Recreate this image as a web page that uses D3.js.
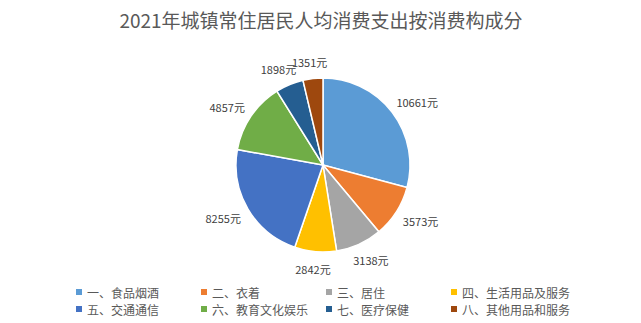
<!DOCTYPE html>
<html>
<head>
<meta charset="utf-8">
<script src="https://cdn.jsdelivr.net/npm/d3@7"></script>
<style>
  body { margin: 0; background: #fff; }
  svg { display: block; font-family: "Noto Sans CJK SC", "Noto Sans", sans-serif; }
</style>
</head>
<body>
<svg id="chart"></svg>
<script>
const title = '2021年城镇常住居民人均消费支出按消费构成分';
const categories = ['一、食品烟酒', '二、衣着', '三、居住', '四、生活用品及服务',
    '五、交通通信', '六、教育文化娱乐', '七、医疗保健', '八、其他用品和服务'];
const values = [10661, 3573, 3138, 2842, 8255, 4857, 1898, 1351];
const unit = '元';
const colors = ['#5B9BD5', '#ED7D31', '#A5A5A5', '#FFC000', '#4472C4', '#70AD47', '#255E91', '#9E480E'];

const width = 641;
const height = 323;
const cx = 323, cy = 165, radius = 87;

const svg = d3.select('#chart').attr('width', width).attr('height', height);

svg.append('text')
    .attr('x', 321)
    .attr('y', 28)
    .attr('text-anchor', 'middle')
    .attr('font-size', 19)
    .attr('fill', '#595959')
    .text(title);

const data = categories.map((c, i) => ({ name: c, value: values[i], color: colors[i] }));

const pie = d3.pie().sort(null).value(d => d.value);
const arcs = pie(data);
const arc = d3.arc().innerRadius(0).outerRadius(radius);

const g = svg.append('g').attr('transform', `translate(${cx},${cy})`);

g.selectAll('path')
    .data(arcs)
    .enter().append('path')
    .attr('d', arc)
    .attr('fill', d => d.data.color)
    .attr('stroke', '#fff')
    .attr('stroke-width', 1.5);

// labels outside, pushed away from the pie by half their box
const labelR = radius + 11;
g.selectAll('text.lbl')
    .data(arcs)
    .enter().append('text')
    .attr('class', 'lbl')
    .attr('font-size', 11)
    .attr('fill', '#404040')
    .attr('text-anchor', 'middle')
    .attr('dominant-baseline', 'central')
    .text(d => d.data.value + unit)
    .each(function (d) {
        const a = (d.startAngle + d.endAngle) / 2;
        const w = this.getComputedTextLength();
        const x = Math.sin(a) * labelR + Math.sin(a) * w / 2;
        const y = -Math.cos(a) * labelR - Math.cos(a) * 6;
        d3.select(this).attr('x', x).attr('y', y);
    });

// legend, 4 columns x 2 rows
const legend = svg.append('g');
const item = legend.selectAll('g')
    .data(data)
    .enter().append('g')
    .attr('transform', (d, i) => `translate(${79 + (i % 4) * 125},${292 + Math.floor(i / 4) * 17})`);

item.append('rect')
    .attr('x', -3).attr('y', -3)
    .attr('width', 6).attr('height', 6)
    .attr('fill', d => d.color);

item.append('text')
    .attr('x', 8)
    .attr('dominant-baseline', 'central')
    .attr('font-size', 12)
    .attr('fill', '#595959')
    .text(d => d.name);
</script>
</body>
</html>
